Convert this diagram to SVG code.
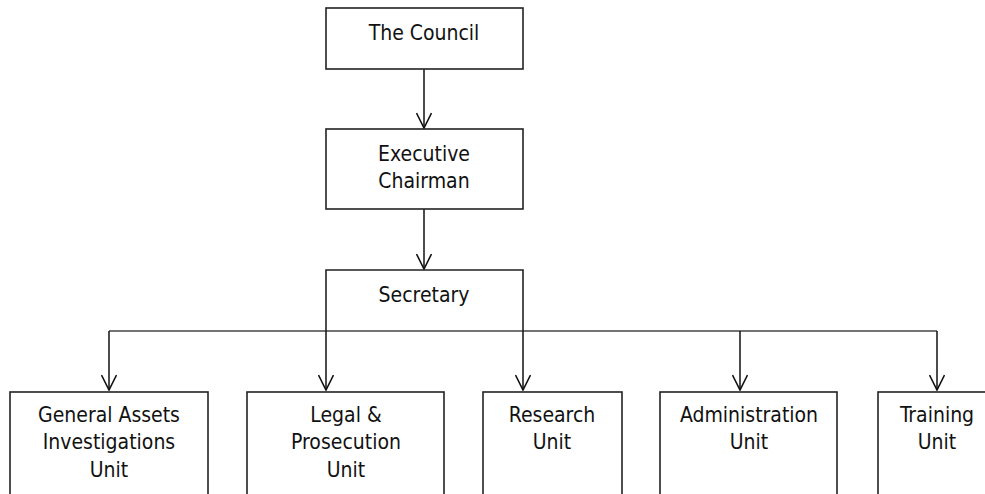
<svg xmlns="http://www.w3.org/2000/svg" width="985" height="494" viewBox="0 0 985 494">
  <defs>
    <marker id="arrow" viewBox="0 0 18 16" refX="17" refY="8" markerWidth="18" markerHeight="16" markerUnits="userSpaceOnUse" orient="auto">
      <path d="M2,0.5 L17,8 L2,15.5" fill="none" stroke="#111" stroke-width="1.6"/>
    </marker>
    <style>
      .box { fill: #fff; stroke: #222; stroke-width: 1.6; }
      .open { fill: none; stroke: #222; stroke-width: 1.6; }
      .conn { fill: none; stroke: #111; stroke-width: 1.5; }
      .bus { fill: none; stroke: #444; stroke-width: 1.3; }
      text { font-family: "DejaVu Sans Condensed", "DejaVu Sans", Verdana, sans-serif; font-stretch: condensed; font-size: 21px; fill: #111; text-anchor: middle; }
    </style>
  </defs>
  <rect width="985" height="494" fill="#fff"/>

  <!-- connectors -->
  <g id="connectors">
    <line class="conn" x1="424" y1="69" x2="424" y2="128" marker-end="url(#arrow)"/>
    <line class="conn" x1="424" y1="209" x2="424" y2="269" marker-end="url(#arrow)"/>
    <path class="bus" d="M109,331 H937"/>
    <line class="conn" x1="109" y1="331" x2="109" y2="390" marker-end="url(#arrow)"/>
    <line class="conn" x1="326" y1="331" x2="326" y2="390" marker-end="url(#arrow)"/>
    <line class="conn" x1="523" y1="331" x2="523" y2="390" marker-end="url(#arrow)"/>
    <line class="conn" x1="740" y1="331" x2="740" y2="390" marker-end="url(#arrow)"/>
    <line class="conn" x1="937" y1="331" x2="937" y2="390" marker-end="url(#arrow)"/>
  </g>

  <g id="council">
    <rect class="box" x="326" y="8" width="197" height="61"/>
    <text x="424" y="40">The Council</text>
  </g>

  <g id="executive-chairman">
    <rect class="box" x="326" y="129" width="197" height="80"/>
    <text x="424" y="161">Executive</text>
    <text x="424" y="188">Chairman</text>
  </g>

  <g id="secretary">
    <path class="open" d="M326,331 V270 H523 V331"/>
    <text x="424" y="302">Secretary</text>
  </g>

  <g id="general-assets">
    <rect class="box" x="10" y="392" width="198" height="130"/>
    <text x="109" y="422">General Assets</text>
    <text x="109" y="449">Investigations</text>
    <text x="109" y="477">Unit</text>
  </g>

  <g id="legal-prosecution">
    <rect class="box" x="247" y="392" width="197" height="130"/>
    <text x="346" y="422">Legal &amp;</text>
    <text x="346" y="449">Prosecution</text>
    <text x="346" y="477">Unit</text>
  </g>

  <g id="research">
    <rect class="box" x="483" y="392" width="139" height="130"/>
    <text x="552" y="422">Research</text>
    <text x="552" y="449">Unit</text>
  </g>

  <g id="administration">
    <rect class="box" x="660" y="392" width="177" height="130"/>
    <text x="749" y="422">Administration</text>
    <text x="749" y="449">Unit</text>
  </g>

  <g id="training">
    <rect class="box" x="878" y="392" width="130" height="130"/>
    <text x="937" y="422">Training</text>
    <text x="937" y="449">Unit</text>
  </g>
</svg>
